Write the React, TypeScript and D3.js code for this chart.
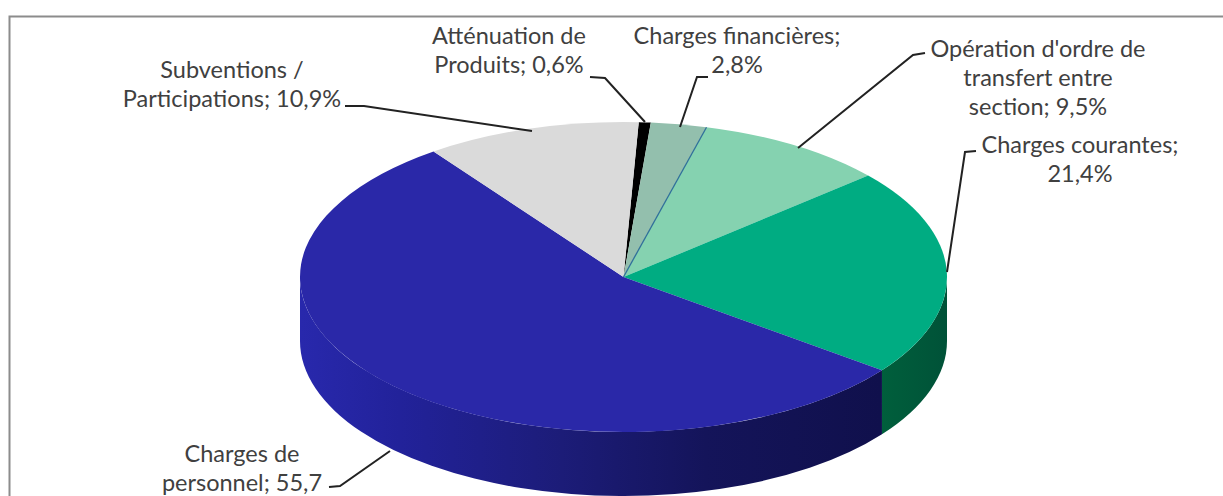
import React from "react";
import * as d3 from "d3";

// Budget shares, clockwise from the narrow black slice near twelve o'clock.
const categories = [
  "Atténuation de Produits",
  "Charges financières",
  "Opération d'ordre de transfert entre section",
  "Charges courantes",
  "Charges de personnel",
  "Subventions / Participations",
];
const shares = [0.6, 2.8, 9.5, 21.4, 55.7, 10.9];
const topColors = ["#000000", "#93BFAD", "#85D2B0", "#00AC82", "#2A28A8", "#DADADA"];
const wallFills = ["#111", "#6b8d80", "#5f9a80", "url(#wallGreen)", "url(#wallBlue)", "#a0a0a0"];

const labelLines = [
  ["Atténuation de", "Produits; 0,6%"],
  ["Charges financières;", "2,8%"],
  ["Opération d'ordre de", "transfert entre", "section; 9,5%"],
  ["Charges courantes;", "21,4%"],
  ["Charges de", "personnel; 55,7"],
  ["Subventions /", "Participations; 10,9%"],
];
const labelCenters: [number, number][] = [
  [509, 35],
  [737, 35],
  [1038, 48],
  [1080, 144],
  [242, 453],
  [232, 69],
];
const leaders: [number, number][][] = [
  [[590, 77], [605, 78], [645, 122]],
  [[708, 77], [697, 77], [680, 127]],
  [[925, 53], [913, 55], [798, 148]],
  [[976, 151], [965, 152], [947, 272]],
  [[329, 487], [340, 486], [390, 451]],
  [[345, 106], [364, 106], [532, 131]],
];

const cx = 623.5;
const cy = 277;
const rx = 323.5;
const ry = 155;
const depth = 64;
const squash = ry / rx;
const rad = Math.PI / 180;

const slices = d3
  .pie<number>()
  .sort(null)
  .startAngle(2.7 * rad)
  .endAngle(362.7 * rad)(shares);

// The disc is seen in slight perspective, so the near side sweeps a little further round.
const viewAngle = (a: number) => a + 1.2 * rad * (1 - Math.cos(a));

const arcGen = d3
  .arc<d3.PieArcDatum<number>>()
  .innerRadius(0)
  .outerRadius(rx)
  .startAngle((d) => viewAngle(d.startAngle))
  .endAngle((d) => viewAngle(d.endAngle));

// Outer wall of a slice: only the stretch facing the viewer (90° to 270° from twelve o'clock).
function wallPath(start: number, end: number): string | null {
  const a0 = Math.max(viewAngle(start), 90 * rad);
  const a1 = Math.min(viewAngle(end), 270 * rad);
  if (a1 <= a0) return null;
  const d = depth / squash;
  const p = d3.path();
  p.arc(0, 0, rx, a0 - Math.PI / 2, a1 - Math.PI / 2);
  p.arc(0, d, rx, a1 - Math.PI / 2, a0 - Math.PI / 2, true);
  p.closePath();
  return p.toString();
}

const leaderLine = d3.line<[number, number]>().curve(d3.curveLinear);

// The thin seam between the financial-charges and transfer slices.
const seamAngle = viewAngle(slices[1].endAngle);

export default function App() {
  const font = "Lato, 'Open Sans', sans-serif";
  return (
    <svg
      width={1223}
      height={496}
      style={{ position: "absolute", left: 0, top: 0, background: "#fff" }}
    >
      <defs>
        {/* Gradient coordinates are local to the disc group, whose origin is the pie centre. */}
        <linearGradient id="wallBlue" gradientUnits="userSpaceOnUse" x1={-323} x2={257} y1={0} y2={0}>
          <stop offset="0" stopColor="#2828AC" />
          <stop offset="0.17" stopColor="#22229A" />
          <stop offset="0.45" stopColor="#1C1C78" />
          <stop offset="0.7" stopColor="#14145A" />
          <stop offset="1" stopColor="#10104C" />
        </linearGradient>
        <linearGradient id="wallGreen" gradientUnits="userSpaceOnUse" x1={257} x2={324} y1={0} y2={0}>
          <stop offset="0" stopColor="#005F3C" />
          <stop offset="1" stopColor="#005238" />
        </linearGradient>
      </defs>

      <path d="M9.5,496 V16.5 H1223" fill="none" stroke="#8c8c8c" strokeWidth={2} />

      <g transform={`translate(${cx},${cy}) scale(1,${squash})`}>
        {slices.map((s, i) => {
          const d = wallPath(s.startAngle, s.endAngle);
          return d ? <path key={categories[i]} d={d} fill={wallFills[i]} /> : null;
        })}
        {slices.map((s, i) => (
          <path key={categories[i]} d={arcGen(s) ?? ""} fill={topColors[i]} />
        ))}
        <line
          x1={0}
          y1={0}
          x2={rx * Math.sin(seamAngle)}
          y2={-rx * Math.cos(seamAngle)}
          stroke="#2F6F9A"
          strokeWidth={1.3}
          vectorEffect="non-scaling-stroke"
        />
      </g>

      {leaders.map((pts, i) => (
        <path key={i} d={leaderLine(pts) ?? ""} fill="none" stroke="#222" strokeWidth={2} />
      ))}

      <g fontFamily={font} fontSize={23.5} fill="#404040" textAnchor="middle">
        {labelLines.map((lines, i) =>
          lines.map((line, j) => (
            <text
              key={line}
              x={labelCenters[i][0]}
              y={labelCenters[i][1] + j * 29}
              dominantBaseline="central"
            >
              {line}
            </text>
          )),
        )}
      </g>
    </svg>
  );
}
